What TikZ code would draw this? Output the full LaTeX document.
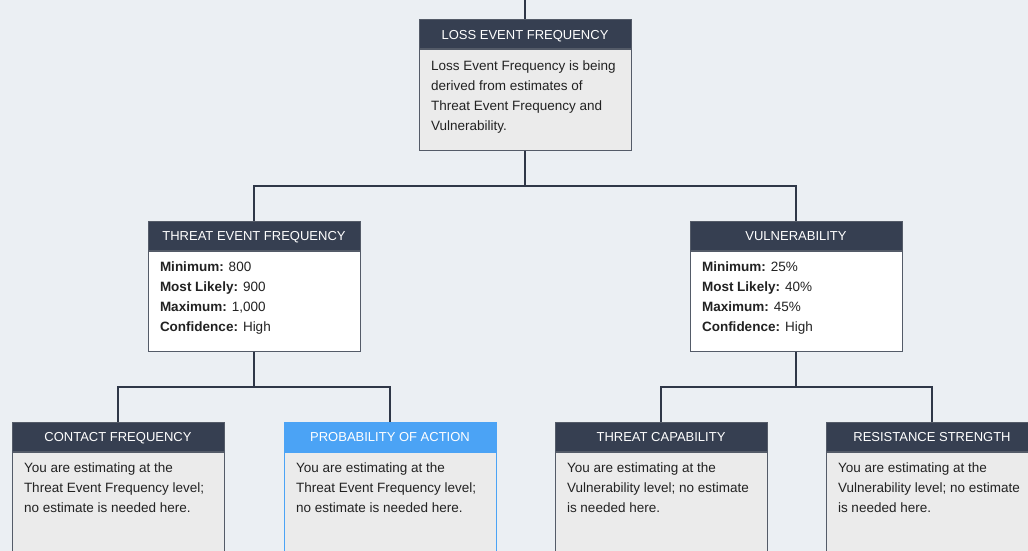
\documentclass[tikz,border=0pt]{standalone}
\usepackage{fontspec}
\setmainfont{Liberation Sans}
\usetikzlibrary{positioning}
\definecolor{bgcol}{HTML}{EBEFF3}
\definecolor{navy}{HTML}{363F51}
\definecolor{linecol}{HTML}{2F3747}
\definecolor{bordcol}{HTML}{545B68}
\definecolor{greybody}{HTML}{EBEBEB}
\definecolor{bluecol}{HTML}{4BA3F5}
\definecolor{txtcol}{HTML}{222222}
\newcommand{\bodytext}[1]{\parbox[t][79pt][t]{188pt}{\fontsize{13.5}{20}\selectfont #1}}

\begin{document}
\begin{tikzpicture}[x=1pt,y=-1pt,
  head/.style={draw=bordcol,fill=navy,line width=1pt,text=white,minimum width=212pt,minimum height=29pt,inner sep=0pt,text height=9.4pt,text depth=0pt,font=\fontsize{13}{15}\selectfont},
  body/.style={draw=bordcol,fill=greybody,line width=1pt,text=txtcol,inner xsep=12pt,inner ysep=10.5pt,align=left},
  link/.style={draw=linecol,line width=2pt}]
  \useasboundingbox (0,0) rectangle (1028,551);
  \fill[bgcol] (0,0) rectangle (1028,551);
  \clip (0,0) rectangle (1028,551);

  \node[head] (lefh) at (525,34.5) {LOSS EVENT FREQUENCY};
  \node[body,below=0pt of lefh] (lefb) {\bodytext{Loss Event Frequency is being\\derived from estimates of\\Threat Event Frequency and\\Vulnerability.}};

  \node[head] (tefh) at (254,235.5) {THREAT EVENT FREQUENCY};
  \node[body,fill=white,below=0pt of tefh] (tefb) {\bodytext{\textbf{Minimum:} 800\\\textbf{Most Likely:} 900\\\textbf{Maximum:} 1,000\\\textbf{Confidence:} High}};

  \node[head] (vulh) at (796,235.5) {VULNERABILITY};
  \node[body,fill=white,below=0pt of vulh] (vulb) {\bodytext{\textbf{Minimum:} 25\%\\\textbf{Most Likely:} 40\%\\\textbf{Maximum:} 45\%\\\textbf{Confidence:} High}};

  \node[head] (cfh) at (118,436.5) {CONTACT FREQUENCY};
  \node[body,below=0pt of cfh] (cfb) {\bodytext{You are estimating at the\\Threat Event Frequency level;\\no estimate is needed here.}};

  \node[head,fill=bluecol,draw=bluecol] (poah) at (390,436.5) {PROBABILITY OF ACTION};
  \node[body,draw=bluecol,below=0pt of poah] (poab) {\bodytext{You are estimating at the\\Threat Event Frequency level;\\no estimate is needed here.}};

  \node[head] (tcaph) at (661,436.5) {THREAT CAPABILITY};
  \node[body,below=0pt of tcaph] (tcapb) {\bodytext{You are estimating at the\\Vulnerability level; no estimate\\is needed here.}};

  \node[head] (rsh) at (932,436.5) {RESISTANCE STRENGTH};
  \node[body,below=0pt of rsh] (rsb) {\bodytext{You are estimating at the\\Vulnerability level; no estimate\\is needed here.}};

  \coordinate (top) at (525,0);
  \draw[link] (top) -- (lefh.north);
  \draw[link] (lefb.south) -- ++(0,35) coordinate (lefj);
  \draw[link] (lefj) -| (tefh.north);
  \draw[link] (lefj) -| (vulh.north);
  \draw[link] (tefb.south) -- ++(0,35) coordinate (tefj);
  \draw[link] (tefj) -| (cfh.north);
  \draw[link] (tefj) -| (poah.north);
  \draw[link] (vulb.south) -- ++(0,35) coordinate (vulj);
  \draw[link] (vulj) -| (tcaph.north);
  \draw[link] (vulj) -| (rsh.north);
\end{tikzpicture}
\end{document}
